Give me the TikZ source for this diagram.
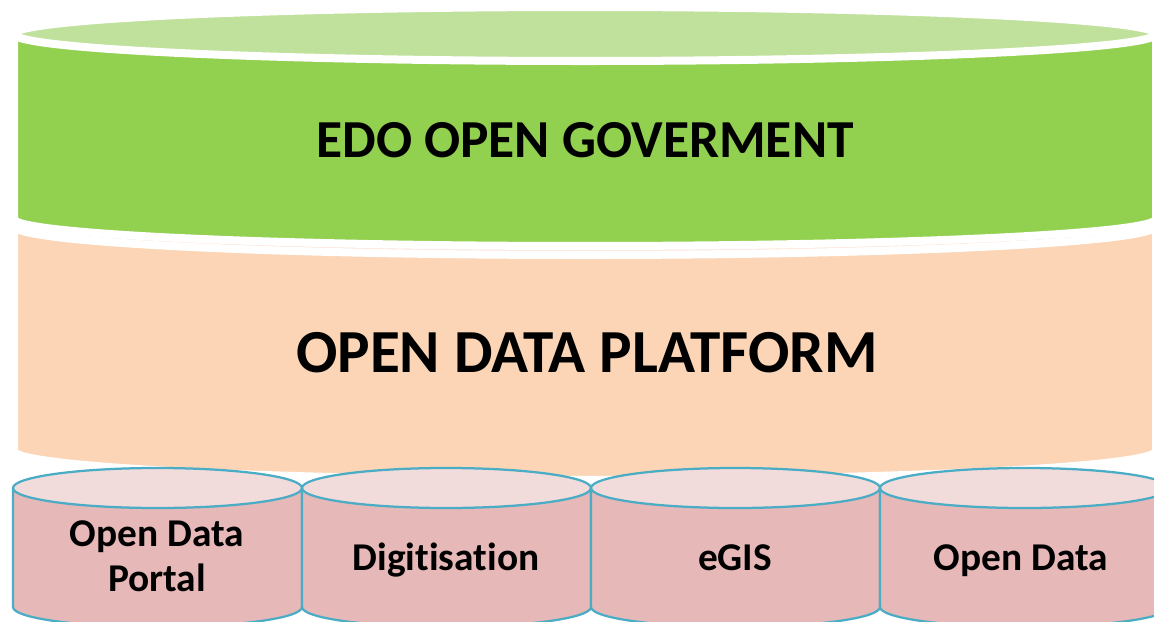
\documentclass[tikz,border=0pt]{standalone}
\usepackage{fontspec}
\setmainfont[Ligatures=NoCommon]{Carlito}
\definecolor{govtop}{HTML}{C0E19B}
\definecolor{govbody}{HTML}{92D050}
\definecolor{odptop}{HTML}{FCE4D6}
\definecolor{odpbody}{HTML}{FBD5B5}
\definecolor{dbtop}{HTML}{F2DCDB}
\definecolor{dbbody}{HTML}{E6B9B8}
\definecolor{dbline}{HTML}{4BACC6}
% drum: #1/#2 left/right x, #3/#4 top/bottom centre y, #5 y radius,
%       #6 body colour, #7 lid colour
\newcommand\drum[7]{%
  \fill[#6] (#1,#3) rectangle (#2,#4);
  \fill[#6] ({(#1+#2)/2},#4) ellipse [x radius={(#2-#1)/2}, y radius=#5];
  \fill[#7] ({(#1+#2)/2},#3) ellipse [x radius={(#2-#1)/2}, y radius=#5];
  \draw[rim] (#1,#3) -- (#1,#4)
       arc [start angle=180, end angle=360, x radius={(#2-#1)/2}, y radius=#5]
       -- (#2,#3);
  \draw[rim] ({(#1+#2)/2},#3) ellipse [x radius={(#2-#1)/2}, y radius=#5];
}

\begin{document}
\begin{tikzpicture}[x=0.025cm, y=0.025cm,
   rim/.style = {draw=white, line width=5.7pt},
   big/.style = {font=\fontsize{#1}{50}\selectfont\bfseries},
   lbl/.style = {font=\fontsize{28}{32}\selectfont\bfseries, align=center},
                    ]
\useasboundingbox (0,0) rectangle (1154,621);
\clip (0,0) rectangle (1154,621);
% layers, back to front
\drum{14}{1156}{395}{170}{29}{odpbody}{odptop}
\drum{14}{1156}{587}{402}{27}{govbody}{govtop}
\begin{scope}[rim/.style={draw=dbline, line width=1.6pt}]
\foreach \x in {13,302,591,880}
  {\drum{\x}{\x+289}{133}{14}{20}{dbbody}{dbtop}}
\end{scope}
% texts
\node (gov) [big=38] at (585,481) {EDO OPEN GOVERMENT};
\node (platform) [big=43.5] at (587,268.5) {OPEN DATA PLATFORM};
\node (portal) [lbl] at (157,65) {Open Data\\Portal};
\node (digit) [lbl, anchor=base] at (446,51) {Digitisation};
\node (egis) [lbl, anchor=base] at (735,51) {eGIS};
\node (odata) [lbl, anchor=base] at (1021,51) {Open Data};
\end{tikzpicture}
\end{document}
